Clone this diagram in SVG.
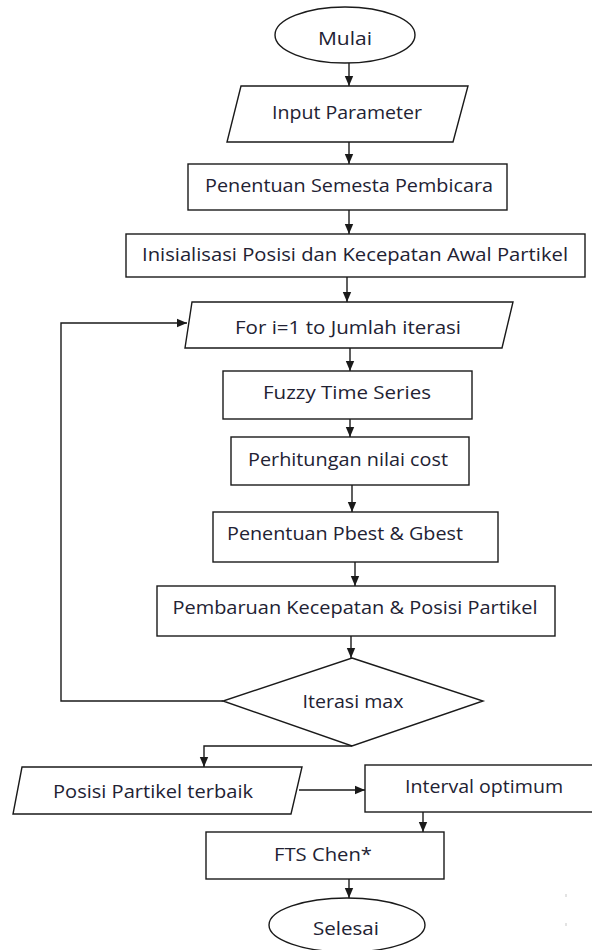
<svg xmlns="http://www.w3.org/2000/svg" width="592" height="950" viewBox="0 0 592 950">
<style>
  .shape { fill: #ffffff; stroke: #1a1a1a; stroke-width: 1.4; }
  .lbl { font-family: "Open Sans", "Noto Sans", "DejaVu Sans", sans-serif; font-size: 19px; fill: #222233; text-anchor: middle; }
  .conn { fill: none; stroke: #1a1a1a; stroke-width: 1.4; }
</style>
<defs>
  <marker id="arr" markerUnits="userSpaceOnUse" markerWidth="10" markerHeight="10" refX="10" refY="5" orient="auto">
    <path d="M0,0.8 L10,5 L0,9.2 z" fill="#1a1a1a"/>
  </marker>
</defs>
<rect width="592" height="950" fill="#ffffff"/>

<g id="mulai">
  <ellipse class="shape" cx="345" cy="35" rx="70" ry="28"/>
  <text class="lbl" x="345" y="45" textLength="54" lengthAdjust="spacingAndGlyphs">Mulai</text>
</g>
<g id="input">
  <polygon class="shape" points="241,86 468,86 453,142 227,142"/>
  <text class="lbl" x="347" y="119" textLength="150" lengthAdjust="spacingAndGlyphs">Input Parameter</text>
</g>
<g id="penentuan">
  <rect class="shape" x="188" y="164" width="319" height="46"/>
  <text class="lbl" x="349" y="192" textLength="288" lengthAdjust="spacingAndGlyphs">Penentuan Semesta Pembicara</text>
</g>
<g id="inisialisasi">
  <rect class="shape" x="126" y="234" width="459" height="43"/>
  <text class="lbl" x="355" y="261" textLength="426" lengthAdjust="spacingAndGlyphs">Inisialisasi Posisi dan Kecepatan Awal Partikel</text>
</g>
<g id="for">
  <polygon class="shape" points="192,302 513,302 502,348 185,348"/>
  <text class="lbl" x="348" y="334" textLength="226" lengthAdjust="spacingAndGlyphs">For i=1 to Jumlah iterasi</text>
</g>
<g id="fts">
  <rect class="shape" x="223" y="371" width="249" height="48"/>
  <text class="lbl" x="347" y="399" textLength="168" lengthAdjust="spacingAndGlyphs">Fuzzy Time Series</text>
</g>
<g id="perhitungan">
  <rect class="shape" x="231" y="437" width="238" height="48"/>
  <text class="lbl" x="348" y="466" textLength="200" lengthAdjust="spacingAndGlyphs">Perhitungan nilai cost</text>
</g>
<g id="pbest">
  <rect class="shape" x="213" y="512" width="285" height="50"/>
  <text class="lbl" x="345" y="540" textLength="236" lengthAdjust="spacingAndGlyphs">Penentuan Pbest &amp; Gbest</text>
</g>
<g id="pembaruan">
  <rect class="shape" x="157" y="586" width="398" height="50"/>
  <text class="lbl" x="355" y="614" textLength="365" lengthAdjust="spacingAndGlyphs">Pembaruan Kecepatan &amp; Posisi Partikel</text>
</g>
<g id="iterasi">
  <polygon class="shape" points="352,658 483,701 352,746 223,701"/>
  <text class="lbl" x="353" y="708" textLength="101" lengthAdjust="spacingAndGlyphs">Iterasi max</text>
</g>
<g id="posisi">
  <polygon class="shape" points="22,767 302,767 291,814 13,814"/>
  <text class="lbl" x="153" y="798" textLength="200" lengthAdjust="spacingAndGlyphs">Posisi Partikel terbaik</text>
</g>
<g id="interval">
  <rect class="shape" x="365" y="765" width="240" height="47"/>
  <text class="lbl" x="484" y="793" textLength="158" lengthAdjust="spacingAndGlyphs">Interval optimum</text>
</g>
<g id="ftschen">
  <rect class="shape" x="206" y="832" width="238" height="47"/>
  <text class="lbl" x="323" y="861" textLength="98" lengthAdjust="spacingAndGlyphs">FTS Chen*</text>
</g>
<g id="selesai">
  <ellipse class="shape" cx="347" cy="925" rx="78" ry="27"/>
  <text class="lbl" x="346" y="935" textLength="66" lengthAdjust="spacingAndGlyphs">Selesai</text>
</g>

<g id="connectors">
  <line class="conn" x1="349" y1="63" x2="349" y2="86" marker-end="url(#arr)"/>
  <line class="conn" x1="349" y1="142" x2="349" y2="164" marker-end="url(#arr)"/>
  <line class="conn" x1="349" y1="210" x2="349" y2="234" marker-end="url(#arr)"/>
  <line class="conn" x1="347" y1="277" x2="347" y2="302" marker-end="url(#arr)"/>
  <line class="conn" x1="350" y1="348" x2="350" y2="371" marker-end="url(#arr)"/>
  <line class="conn" x1="350" y1="419" x2="350" y2="437" marker-end="url(#arr)"/>
  <line class="conn" x1="352" y1="485" x2="352" y2="512" marker-end="url(#arr)"/>
  <line class="conn" x1="355" y1="562" x2="355" y2="586" marker-end="url(#arr)"/>
  <line class="conn" x1="351" y1="636" x2="351" y2="658" marker-end="url(#arr)"/>
  <polyline class="conn" points="223,701 61,701 61,323 187,323" marker-end="url(#arr)"/>
  <polyline class="conn" points="352,746 204,746 204,767" marker-end="url(#arr)"/>
  <line class="conn" x1="299" y1="790" x2="365" y2="790" marker-end="url(#arr)"/>
  <line class="conn" x1="423" y1="812" x2="423" y2="832" marker-end="url(#arr)"/>
  <line class="conn" x1="349" y1="879" x2="349" y2="898" marker-end="url(#arr)"/>
</g>
<rect x="565.5" y="894" width="1" height="3" fill="#c8c8c8"/>
<rect x="565.5" y="923" width="1" height="3" fill="#c8c8c8"/>
</svg>
